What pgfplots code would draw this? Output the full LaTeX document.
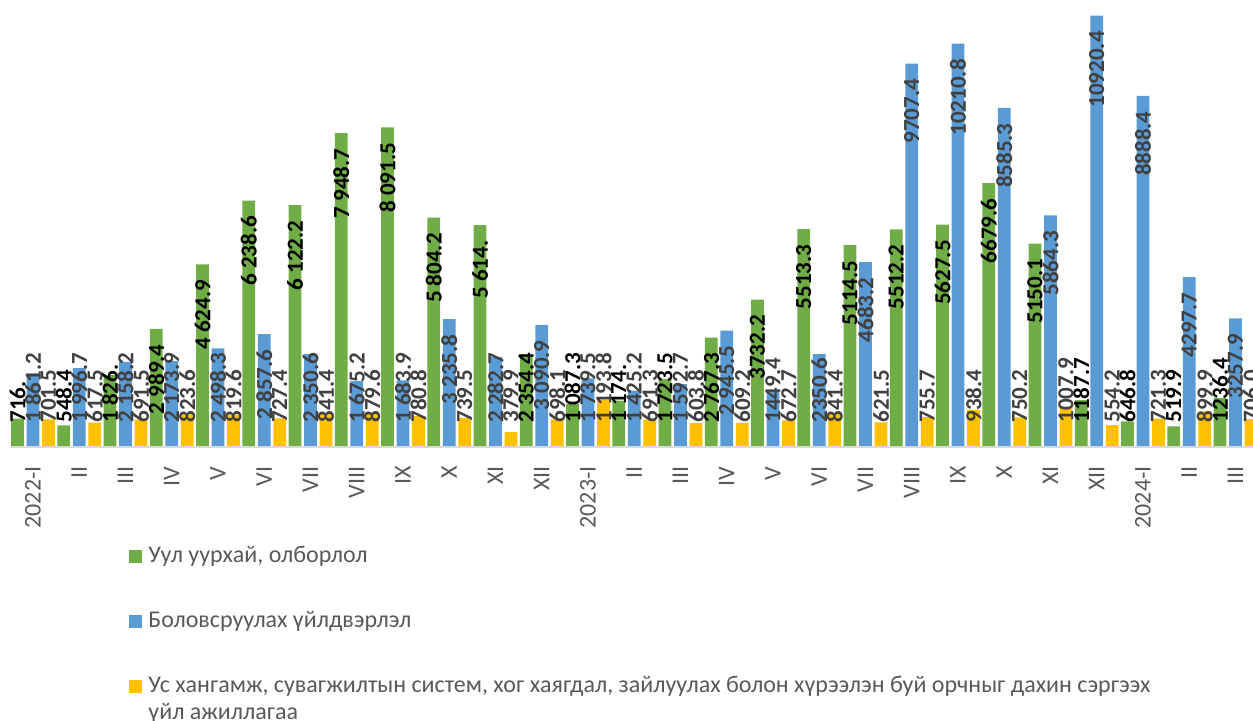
\documentclass[border=0pt]{standalone}
\usepackage{pgfplots}
\pgfplotsset{compat=1.18}
\usepackage{pgfplotstable}
\usepackage{fontspec}
\setmainfont{Carlito}

\definecolor{cgreen}{HTML}{70AD47}
\definecolor{cblue}{HTML}{5B9BD5}
\definecolor{cyellow}{HTML}{FFC000}
\definecolor{tgrey}{HTML}{595959}
\definecolor{lgrey}{HTML}{404040}
\definecolor{agrey}{HTML}{D9D9D9}

% g = mining, b = manufacturing, w = water supply; *l = label as printed
\pgfplotstableread[col sep=comma]{
g,gl,b,bl,w,wl
716.0,716.,1861.2,1 861.2,701.5,701.5
548.4,548.4,1996.7,1 996.7,617.5,617.5
1826.0,1 826.,2158.2,2 158.2,691.5,691.5
2989.4,2 989.4,2173.9,2 173.9,823.6,823.6
4624.9,4 624.9,2498.3,2 498.3,819.6,819.6
6238.6,6 238.6,2857.6,2 857.6,727.4,727.4
6122.2,6 122.2,2350.6,2 350.6,841.4,841.4
7948.7,7 948.7,1675.2,1 675.2,879.6,879.6
8091.5,8 091.5,1683.9,1 683.9,780.8,780.8
5804.2,5 804.2,3235.8,3 235.8,739.5,739.5
5614.0,5 614.,2282.7,2 282.7,379.9,379.9
2354.4,2 354.4,3090.9,3 090.9,698.1,698.1
1087.3,1 087.3,1739.5,1 739.5,1193.8,1 193.8
1174.0,1 174.,1425.2,1 425.2,691.3,691.3
1723.5,1 723.5,1592.7,1 592.7,603.8,603.8
2767.3,2 767.3,2945.5,2 945.5,609.2,609.2
3732.2,3732.2,1449.4,1449.4,672.7,672.7
5513.3,5513.3,2350.6,2350.6,841.4,841.4
5114.5,5114.5,4683.2,4683.2,621.5,621.5
5512.2,5512.2,9707.4,9707.4,755.7,755.7
5627.5,5627.5,10210.8,10210.8,938.4,938.4
6679.6,6679.6,8585.3,8585.3,750.2,750.2
5150.1,5150.1,5864.3,5864.3,1007.9,1007.9
1187.7,1187.7,10920.4,10920.4,554.2,554.2
646.8,646.8,8888.4,8888.4,721.3,721.3
519.9,519.9,4297.7,4297.7,899.9,899.9
1236.4,1236.4,3257.9,3257.9,706.0,706.0
}\data

% label sits inside the bar top, but never lower than the clamp line
\newlength\lablen
\newcommand\barlab[1]{%
  \setbox0=\hbox{#1}\setlength\lablen{\wd0}%
  \pgfmathsetmacro\labpad{max(0,\rawv*0.019751-20-\lablen)}%
  \hspace*{\labpad pt}\box0}

\pgfplotsset{
  barlabels/.style={forget plot, only marks, mark size=0pt,
    mark options={draw=none, fill=none},
    point meta=explicit symbolic,
    visualization depends on={rawy \as \rawv},
    nodes near coords={\barlab{\pgfplotspointmeta}},
    every node near coord/.append style={yshift={12pt-\rawv*0.019751pt},
      rotate=90, anchor=west,
      inner sep=0pt, font=\bfseries\fontsize{11.5}{12}\selectfont, text=#1}},
}

\begin{document}
\begin{tikzpicture}
\useasboundingbox (0,-136.5pt) rectangle (626.5pt,223.5pt);
\clip (0,-136.5pt) rectangle (626.5pt,223.5pt);
\begin{axis}[
  at={(0,0)}, anchor=south west,
  scale only axis, width=626.5pt, height=223.5pt,
  xmin=-0.7135, xmax=26.378, ymin=0, ymax=11316,
  axis line style={draw=none},
  ytick=\empty,
  xtick={0,...,26},
  xticklabels={2022-I,II,III,IV,V,VI,VII,VIII,IX,X,XI,XII,2023-I,II,III,IV,V,VI,VII,VIII,IX,X,XI,XII,2024-I,II,III},
  major tick length=0pt,
  xticklabel style={rotate=90, anchor=east, inner sep=0pt,
    font=\fontsize{12}{12}\selectfont, text=tgrey},
  xticklabel shift=9.5pt,
  legend cell align=left,
  legend image code/.code={\fill[#1] (0pt,-3.25pt) rectangle (6.5pt,3.25pt);},
  legend style={at={(0.103,-0.2192)}, anchor=north west, draw=none, fill=none,
    inner sep=0pt, row sep=21pt, column sep=3pt,
    font=\fontsize{12}{14}\selectfont, text=tgrey,
    nodes={inner sep=0pt, text height=8.5pt, text depth=3pt}},
]
\addplot[ybar, bar width=6.3pt, bar shift=0pt, fill=cgreen, draw=none]
  table[x expr=\coordindex-0.335, y=g] {\data};
\addlegendentry{Уул уурхай, олборлол}
\addplot[ybar, bar width=6.3pt, bar shift=0pt, fill=cblue, draw=none]
  table[x expr=\coordindex, y=b] {\data};
\addlegendentry{Боловсруулах үйлдвэрлэл}
\addplot[ybar, bar width=6.3pt, bar shift=0pt, fill=cyellow, draw=none]
  table[x expr=\coordindex+0.335, y=w] {\data};
\addlegendentry{\rlap{\smash{\raisebox{-13.5pt}{үйл ажиллагаа}}}Ус хангамж, сувагжилтын систем, хог хаягдал, зайлуулах болон хүрээлэн буй орчныг дахин сэргээх}

\draw[agrey, line width=1pt] (axis cs:-0.5,0) -- (axis cs:26.6,0);

\addplot[barlabels=black] table[x expr=\coordindex-0.335, y=g, meta=gl] {\data};
\addplot[barlabels=lgrey] table[x expr=\coordindex, y=b, meta=bl] {\data};
\addplot[barlabels=lgrey] table[x expr=\coordindex+0.335, y=w, meta=wl] {\data};
\end{axis}
\end{tikzpicture}
\end{document}
